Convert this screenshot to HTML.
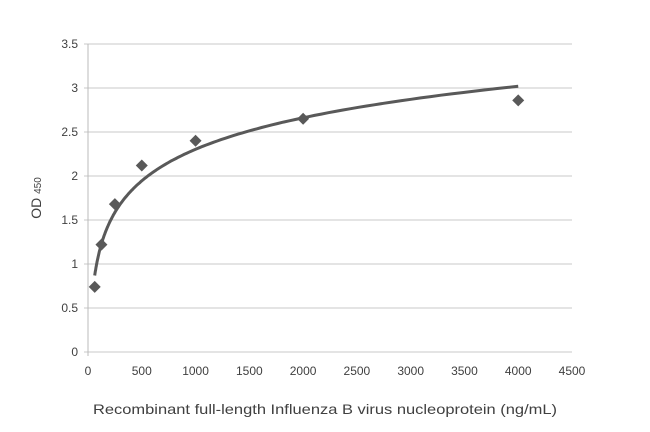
<!DOCTYPE html>
<html><head><meta charset="utf-8"><style>
body{margin:0;background:#fff;}
svg text{font-family:"Liberation Sans",sans-serif;fill:#404040;}
</style></head><body>
<svg id="chart" width="650" height="427" viewBox="0 0 650 427" xmlns="http://www.w3.org/2000/svg">
<g id="grid"></g>
<g id="axes"></g>
<g id="marks"></g>
<text transform="translate(41,198) rotate(-90)" text-anchor="middle" font-size="14">OD <tspan font-size="10">450</tspan></text>
<text x="93" y="414" font-size="14" textLength="464" lengthAdjust="spacingAndGlyphs">Recombinant full-length Influenza B virus nucleoprotein  (ng/mL)</text>
</svg>
<script>
const xVals=[62.5,125,250,500,1000,2000,4000];
const yVals=[0.74,1.22,1.68,2.12,2.40,2.65,2.86];
const xTicks=[0,500,1000,1500,2000,2500,3000,3500,4000,4500];
const yTicks=[0,0.5,1,1.5,2,2.5,3,3.5];
const fitA=0.517, fitB=-1.268;
const X0=88,X1=572,Y0=352,Y1=44;
const sx=v=>X0+v/4500*(X1-X0), sy=v=>Y0-v/3.5*(Y0-Y1);
const NS="http://www.w3.org/2000/svg";
function mk(t,a,p){const e=document.createElementNS(NS,t);for(const k in a)e.setAttribute(k,a[k]);p.appendChild(e);return e;}
const g=document.getElementById('grid'),ax=document.getElementById('axes'),m=document.getElementById('marks');
yTicks.forEach(t=>{
 const l=mk('line',{x1:X0-4,x2:X1,y1:sy(t),y2:sy(t),stroke:'#c8c8c8','stroke-width':1},g);
 
 
 const tx=mk('text',{x:X0-10,y:sy(t)+4,'text-anchor':'end','font-size':12},ax);tx.textContent=t;
 
 
});
const yl=mk('line',{x1:X0,x2:X0,y1:Y1,y2:Y0+4,stroke:'#bbbbbb'},ax);


xTicks.forEach(t=>{
 const tx=mk('text',{x:sx(t),y:Y0+23,'text-anchor':'middle','font-size':12},ax);tx.textContent=t;
 
 
});
let d='';
for(let v=xVals[0];v<=xVals[xVals.length-1];v*=1.03){d+=(d?'L':'M')+sx(v).toFixed(1)+','+sy(fitA*Math.log(v)+fitB).toFixed(1);}
const v=xVals[xVals.length-1];d+='L'+sx(v)+','+sy(fitA*Math.log(v)+fitB);
const p=mk('path',{d:d,fill:'none',stroke:'#595959','stroke-width':3},m);


xVals.forEach((xv,i)=>{
 const cx=sx(xv),cy=sy(yVals[i]);
 const q=mk('polygon',{points:`${cx},${cy-6} ${cx+6},${cy} ${cx},${cy+6} ${cx-6},${cy}`,fill:'#595959'},m);
 
 
});
</script>
</body></html>
